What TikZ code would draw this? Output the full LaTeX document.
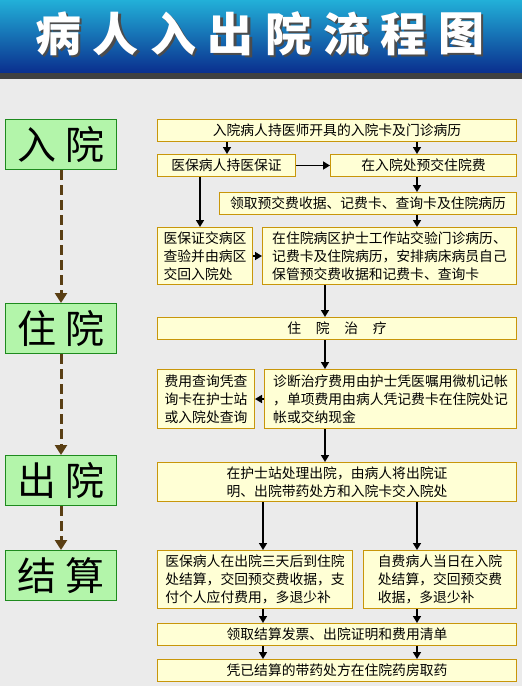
\documentclass[tikz,border=0pt]{standalone}
\usepackage{fontspec}
\setmainfont{Noto Sans CJK SC}
\usepackage{xcolor}
\usepackage{tikz}
\usetikzlibrary{arrows.meta, positioning}

\definecolor{bannertop}{HTML}{22B0D8}
\definecolor{bannerbot}{HTML}{0A2E8E}
\definecolor{pagebg}{HTML}{EBEBEB}
\definecolor{stagefill}{HTML}{B3F5AA}
\definecolor{stageline}{HTML}{1E8A1E}
\definecolor{boxfill}{HTML}{FFFFD5}
\definecolor{boxline}{HTML}{C8960A}
\definecolor{dashbrown}{HTML}{5A3F14}

% white title glyph with a grey drop shadow
\newcommand{\shadowchar}[1]{\rlap{\kern2.5pt\raisebox{-2.5pt}{\textcolor{black!70}{#1}}}\textcolor{white}{#1}}

\begin{document}
\begin{tikzpicture}[
  x=1pt, y=-1pt,
  box/.style={rectangle, draw=boxline, fill=boxfill, line width=1pt, anchor=north west,
    inner sep=0pt, align=center, font=\fontsize{13.8}{17.8}\selectfont},
  lbox/.style={box, align=left},
  stage/.style={rectangle, draw=stageline, fill=stagefill, line width=1pt, anchor=north west,
    inner sep=0pt, minimum width=111, minimum height=50, font=\fontsize{39}{39}\selectfont},
  arrow/.style={-{Triangle[length=7pt, width=8pt]}, line width=1.6pt, black},
  flow/.style={-{Triangle[length=10pt, width=12pt]}, line width=3pt, dashbrown,
    dash pattern=on 10pt off 5pt},
  titlechar/.style={font=\fontsize{46}{46}\selectfont\bfseries, inner sep=0pt}
]

% background and banner
\fill[pagebg] (0,0) rectangle (522,686);
\shade[top color=bannertop, bottom color=bannerbot] (0,0) rectangle (522,73);
\fill[black!75] (0,73) rectangle (522,79);
\foreach \c [count=\i] in {病,人,入,出,院,流,程,图} {
  \node[titlechar] (t\i) at ({58+(\i-1)*57.6}, 35) {\shadowchar{\c}};
}

% stages
\node[stage] (ruyuan) at (5,119) {入\hspace{9pt}院};
\node[stage] (zhuyuan) at (5,303) {住\hspace{9pt}院};
\node[stage] (chuyuan) at (5,455) {出\hspace{9pt}院};
\node[stage] (jiesuan) at (5,550) {结\hspace{9pt}算};

\draw[flow] (ruyuan) -- (zhuyuan);
\draw[flow] (zhuyuan) -- (chuyuan);
\draw[flow] (chuyuan) -- (jiesuan);

% admission
\node[box, minimum width=359, minimum height=22] (card) at (157,119) {入院病人持医师开具的入院卡及门诊病历};
\node[box, minimum width=138, minimum height=22] (ybcard) at (157,154) {医保病人持医保证};
\node[box, minimum width=186, minimum height=22] (deposit) at (330,154) {在入院处预交住院费};
\node[box, minimum width=297, minimum height=22] (receipt) at (219,192) {领取预交费收据、记费卡、查询卡及住院病历};
\node[lbox, minimum width=95, minimum height=57] (ybcheck) at (157,227) {医保证交病区\\查验并由病区\\交回入院处};
\node[lbox, minimum width=254, minimum height=57] (ward) at (262,227) {在住院病区护士工作站交验门诊病历、\\记费卡及住院病历，安排病床病员自己\\保管预交费收据和记费卡、查询卡};

% in hospital
\node[box, minimum width=359, minimum height=22] (treat) at (157,317) {住\hspace{14.7pt}院\hspace{14.7pt}治\hspace{14.7pt}疗};
\node[lbox, minimum width=97, minimum height=59] (query) at (157,369) {费用查询凭查\\询卡在护士站\\或入院处查询};
\node[lbox, minimum width=252, minimum height=59] (billing) at (264,369) {诊断治疗费用由护士凭医嘱用微机记帐\\，单项费用由病人凭记费卡在住院处记\\帐或交纳现金};

% discharge
\node[box, minimum width=359, minimum height=39] (discharge) at (157,462) {在护士站处理出院，由病人将出院证\\明、出院带药处方和入院卡交入院处};

% settlement
\node[lbox, minimum width=195, minimum height=58] (ybsettle) at (157,550) {医保病人在出院三天后到住院\\处结算，交回预交费收据，支\\付个人应付费用，多退少补};
\node[lbox, minimum width=153, minimum height=58] (selfsettle) at (363,550) {自费病人当日在入院\\处结算，交回预交费\\收据，多退少补};
\node[box, minimum width=359, minimum height=22] (invoice) at (157,623) {领取结算发票、出院证明和费用清单};
\node[box, minimum width=359, minimum height=22] (pharmacy) at (157,659) {凭已结算的带药处方在住院药房取药};

\draw[arrow] (card.south -| 227,0) -- (ybcard.north -| 227,0);
\draw[arrow] (card.south -| 417,0) -- (deposit.north -| 417,0);
\draw[arrow] (ybcard) -- (deposit);
\draw[arrow] (deposit.south -| 417,0) -- (receipt.north -| 417,0);
\draw[arrow] (receipt.south -| 417,0) -- (ward.north -| 417,0);
\draw[arrow] (ybcard.south -| 200,0) -- (ybcheck.north -| 200,0);
\draw[arrow] (ybcheck) -- (ward);
\draw[arrow] (ward.south -| 325,0) -- (treat.north -| 325,0);
\draw[arrow] (treat.south -| 325,0) -- (billing.north -| 325,0);
\draw[arrow] (billing) -- (query);
\draw[arrow] (billing.south -| 325,0) -- (discharge.north -| 325,0);
\draw[arrow] (discharge.south -| 263,0) -- (ybsettle.north -| 263,0);
\draw[arrow] (discharge.south -| 417,0) -- (selfsettle.north -| 417,0);
\draw[arrow] (ybsettle.south -| 263,0) -- (invoice.north -| 263,0);
\draw[arrow] (selfsettle.south -| 417,0) -- (invoice.north -| 417,0);
\draw[arrow] (invoice.south -| 263,0) -- (pharmacy.north -| 263,0);
\draw[arrow] (invoice.south -| 417,0) -- (pharmacy.north -| 417,0);

\useasboundingbox (0,0) rectangle (522,686);
\end{tikzpicture}
\end{document}
